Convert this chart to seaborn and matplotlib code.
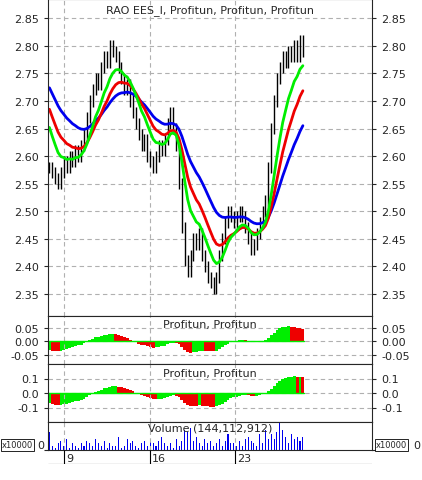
import numpy as np, pandas as pd, matplotlib
matplotlib.use("Agg")
import matplotlib.pyplot as plt
import seaborn as sns
sns.set_style("white")
plt.rcParams['font.family'] = ['DejaVu Sans']

close = [2.58,2.57,2.56,2.55,2.57,2.59,2.58,2.60,2.59,2.61,2.60,2.62,2.64,2.67,2.70,2.72,2.74,2.73,2.76,2.78,2.77,2.80,2.79,2.78,2.76,
         2.74,2.72,2.73,2.70,2.68,2.66,2.64,2.62,2.63,2.60,2.59,2.58,2.60,2.62,2.61,2.63,2.66,2.68,2.65,2.62,2.55,2.47,2.41,2.39,2.42,
         2.45,2.44,2.46,2.42,2.40,2.38,2.37,2.36,2.38,2.42,2.45,2.48,2.50,2.49,2.48,2.49,2.50,2.49,2.47,2.45,2.43,2.44,2.46,2.48,2.50,
         2.52,2.58,2.65,2.70,2.74,2.76,2.78,2.77,2.79,2.78,2.80,2.78,2.81,2.79]
volume = [8,2,1,3,4,2,5,1,3,2,1,3,2,4,3,2,5,3,2,4,1,3,2,2,6,1,2,5,3,4,2,1,3,4,2,5,3,2,4,6,3,2,3,1,5,2,4,9,8,10,4,6,3,2,5,3,4,2,3,5,2,4,7,3,3,2,4,2,5,6,4,3,2,7,3,9,5,7,5,8,12,9,6,3,7,5,6,4,6]
seeds = {"fast": 2.67, "mid": 2.70, "slow": 2.735}
spans = {"fast": 9, "mid": 15, "slow": 27}
tick_days = ["9", "16", "23"]
tick_pos = [5.1, 34.9, 64.4]

def ema(vals, span, seed):
    a = 2 / (span + 1); out = []; e = seed
    for v in vals:
        e = e + a * (v - e); out.append(e)
    return np.array(out)
fast = ema(close, spans["fast"], seeds["fast"])
mid = ema(close, spans["mid"], seeds["mid"])
slow = ema(close, spans["slow"], seeds["slow"])
osc1 = fast - mid
osc2 = fast - slow
x = np.arange(len(close))
df = pd.DataFrame({"x": x, "close": close, "fast": fast, "mid": mid, "slow": slow})

fig = plt.figure(figsize=(4.22, 4.81), dpi=100)
L, W = 48/422, 324/422
def ax_at(top, bot):
    return fig.add_axes([L, 1-bot/481, W, (bot-top)/481])
a1 = ax_at(0, 317); a2 = ax_at(317, 365); a3 = ax_at(365, 423); a4 = ax_at(423, 451)
xlim = (-0.5, 112)
for a in (a1, a2, a3, a4):
    a.set_xlim(*xlim)
    a.tick_params(axis='y', which='both', left=True, right=True, labelleft=True, labelright=True, labelsize=8, length=3, direction='out')
    a.tick_params(axis='x', bottom=False, labelbottom=False)
    for t in tick_pos:
        a.axvline(t, color='#b0b0b0', ls=(0, (4, 3)), lw=0.8)
    for sp in a.spines.values():
        sp.set_linewidth(0.8)

prev = [close[0]] + close[:-1]
for i, (p, c) in enumerate(zip(prev, close)):
    lo, hi = min(p, c) - 0.01, max(p, c) + 0.01
    a1.vlines(i, lo, hi, color='black', lw=1)
sns.lineplot(data=df, x="x", y="slow", ax=a1, color='#0000ee', lw=2)
sns.lineplot(data=df, x="x", y="mid", ax=a1, color='#ee0000', lw=2)
sns.lineplot(data=df, x="x", y="fast", ax=a1, color='#00ee00', lw=2)
a1.set_xlim(*xlim)
a1.set_ylim(2.31, 2.885)
yt = np.arange(2.35, 2.86, 0.05)
a1.set_yticks(yt)
a1.set_yticklabels([f"{v:.2f}" for v in yt])
a1.grid(axis='y', color='#b0b0b0', ls=(0, (4, 3)), lw=0.8)
a1.set_xlabel(""); a1.set_ylabel("")
a1.set_title("RAO EES_I, Profitun, Profitun, Profitun", fontsize=8, y=0.96, pad=0)

def hist(a, vals, title, lim, ticks, fmt):
    v = np.asarray(vals)
    cols = ['#00ee00' if (i == 0 or v[i] >= v[i-1]) else '#ee0000' for i in range(len(v))]
    a.bar(x, v, width=1.0, color=cols, linewidth=0)
    a.axhline(0, color='#00ee00', lw=1, xmax=len(v)/(xlim[1]-xlim[0]))
    a.set_ylim(*lim)
    a.set_yticks(ticks)
    a.set_yticklabels([fmt.format(t) for t in ticks])
    a.grid(axis='y', color='#b0b0b0', ls=(0, (4, 3)), lw=0.8)
    a.text(0.5, 0.93, title, transform=a.transAxes, ha='center', va='top', fontsize=8)
hist(a2, osc1, "Profitun, Profitun", (-0.085, 0.095), [-0.05, 0, 0.05], "{:.2f}")
hist(a3, osc2, "Profitun, Profitun", (-0.2, 0.2), [-0.1, 0, 0.1], "{:.1f}")

a4.bar(x, volume, width=0.35, color='#0000ee', linewidth=0)
a4.set_ylim(0, 12.5)
a4.set_yticks([0])
a4.set_yticklabels([])
a4.text(0.5, 0.97, "Volume (144,112,912)", transform=a4.transAxes, ha='center', va='top', fontsize=8)
fig.text(2/422, 1-446/481, "x10000", fontsize=6, va='center', bbox=dict(fc='white', ec='black', lw=0.6, pad=0.8))
fig.text(44/422, 1-446/481, "0", fontsize=8, va='center', ha='right')
fig.text(376/422, 1-446/481, "x10000", fontsize=6, va='center', bbox=dict(fc='white', ec='black', lw=0.6, pad=0.8))
fig.text(413/422, 1-446/481, "0", fontsize=8, va='center', ha='left')

a5 = fig.add_axes([L, 1-465/481, W, 14/481])
a5.set_xlim(*xlim); a5.set_ylim(0, 1)
a5.axis('off')
a5.axhline(0, color='black', lw=0.8)
for t, lab in zip(tick_pos, tick_days):
    a5.vlines(t, 0, 1, color='black', lw=0.8)
    a5.text(t + 0.8, 0.45, lab, fontsize=8, va='center')

fig.savefig("out.png", dpi=100)
